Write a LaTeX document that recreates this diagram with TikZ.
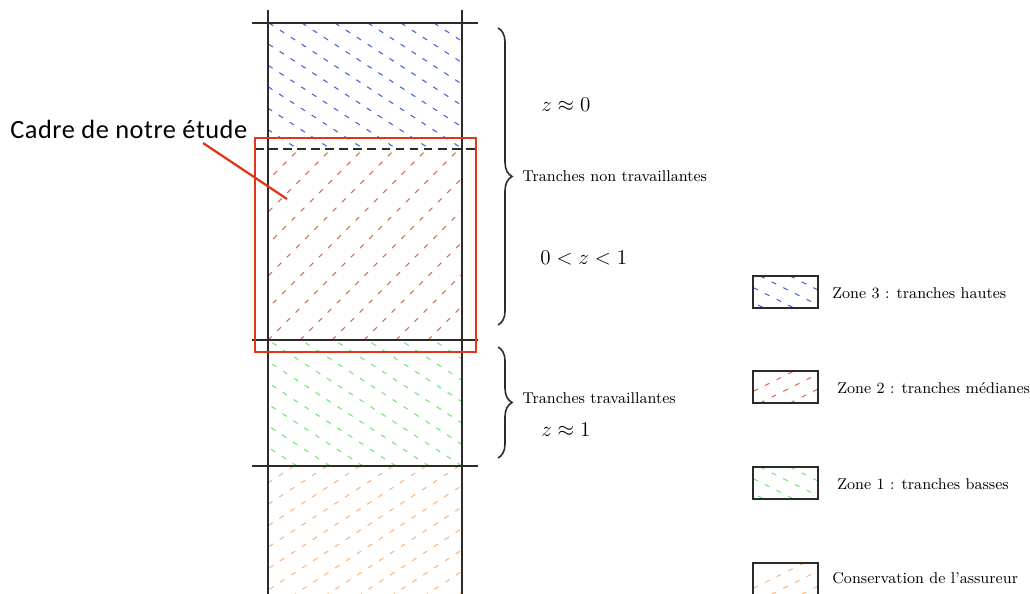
\documentclass[tikz,border=0pt]{standalone}
\usepackage{fontspec}
\newfontfamily\calloutfont[LetterSpace=2]{Carlito}
\usetikzlibrary{decorations.pathreplacing,positioning}
\definecolor{ink}{HTML}{2B2B2B}
\definecolor{hatchblue}{HTML}{3D5FE0}
\definecolor{hatchred}{HTML}{E8604A}
\definecolor{hatchgreen}{HTML}{6FE86F}
\definecolor{hatchorange}{HTML}{FFB27A}
\definecolor{framered}{HTML}{E2361A}

\begin{document}
\begin{tikzpicture}[
  x=0.02cm,
  y=-0.02cm,
  hatch/.style={line width=0.6pt,dash pattern=on 2.9pt off 4.5pt},
  rail/.style={draw=ink,line width=0.9pt},
  legbox/.style={draw=ink,line width=1pt},
  zonelabel/.style={font=\fontsize{8.9}{10}\selectfont,anchor=west,inner sep=0pt},
  mathlabel/.style={font=\fontsize{12.8}{14}\selectfont,anchor=west,inner sep=0pt}
]
\useasboundingbox (0,0) rectangle (1030,593);

% Hatched zones of the column
\begin{scope}
  \clip (268,23) rectangle (462,149);
  \foreach \k in {-7,...,6}
    \draw[hatch,hatchblue] ({302+33*\k},23) -- ++(300,195);
\end{scope}
\begin{scope}
  \clip (268,149) rectangle (462,340);
  \foreach \k in {-6,...,6}
    \draw[hatch,hatchred] ({268+32*\k},340) -- ++(230,-230);
\end{scope}
\begin{scope}
  \clip (268,340) rectangle (462,466);
  \foreach \k in {-1,...,11}
    \draw[hatch,hatchgreen] ({297+33*\k},466) -- ++(-300,-195);
\end{scope}
\begin{scope}
  \clip (268,466) rectangle (462,600);
  \foreach \k in {-2,...,10}
    \draw[hatch,hatchorange] ({327+33*\k},466) -- ++(-300,195);
\end{scope}

% Column rails
\draw[rail] (268,10) -- (268,600);
\draw[rail] (462,10) -- (462,600);
\foreach \y in {23,340,466}
  \draw[rail] (252,\y) -- (478,\y);
\draw[ink,line width=0.9pt,dash pattern=on 5pt off 3pt] (255,149) -- (476,149);

% Frame of the study
\draw[framered,line width=1.6pt] (255,138) rectangle (476,352);
\node[font=\calloutfont\fontsize{15}{17}\selectfont,anchor=west,inner sep=0pt]
  (cadre) at (10,129) {Cadre de notre étude};
\coordinate (cadretail) at (203,143);
\coordinate (cadretip) at (287,199);
\draw[framered,line width=1.3pt] (cadretail) -- (cadretip);

% Braces and their labels
\coordinate (nontop) at (498,28);
\coordinate (nonbot) at (498,325);
\coordinate (travtop) at (498,347);
\coordinate (travbot) at (498,458);
\draw[ink,line width=0.9pt,decorate,decoration={brace,amplitude=8pt}]
  (nontop) -- (nonbot);
\draw[ink,line width=0.9pt,decorate,decoration={brace,amplitude=8pt}]
  (travtop) -- (travbot);

\node[zonelabel] (nonlab) at (522,176) {Tranches non travaillantes};
\node[zonelabel] (travlab) at (522,398) {Tranches travaillantes};
\node[mathlabel] (zzero) at (541,105) {$z\approx 0$};
\node[mathlabel] (zmid) at (540,258) {$0<z<1$};
\node[mathlabel] (zone) at (541,430) {$z\approx 1$};

% Legend
\begin{scope}
  \clip (753,276) rectangle (818,308);
  \foreach \k in {-3,...,3}
    \draw[hatch,hatchblue] ({760+30*\k},276) -- ++(100,50);
\end{scope}
\draw[legbox] (753,276) rectangle (818,308);
\begin{scope}
  \clip (753,371) rectangle (818,403);
  \foreach \k in {-1,...,5}
    \draw[hatch,hatchred] ({760+30*\k},403) -- ++(100,-50);
\end{scope}
\draw[legbox] (753,371) rectangle (818,403);
\begin{scope}
  \clip (753,467) rectangle (818,499);
  \foreach \k in {-3,...,3}
    \draw[hatch,hatchgreen] ({760+30*\k},467) -- ++(100,50);
\end{scope}
\draw[legbox] (753,467) rectangle (818,499);
\begin{scope}
  \clip (753,563) rectangle (818,600);
  \foreach \k in {-1,...,5}
    \draw[hatch,hatchorange] ({760+30*\k},600) -- ++(100,-50);
\end{scope}
\draw[legbox] (753,563) rectangle (818,600);

\node[zonelabel] (leghaut) at (832,293) {Zone 3 : tranches hautes};
\node[zonelabel] (legmed) at (837,388) {Zone 2 : tranches médianes};
\node[zonelabel] (legbas) at (837,484) {Zone 1 : tranches basses};
\node[zonelabel] (legcons) at (832,578) {Conservation de l'assureur};

\end{tikzpicture}
\end{document}
